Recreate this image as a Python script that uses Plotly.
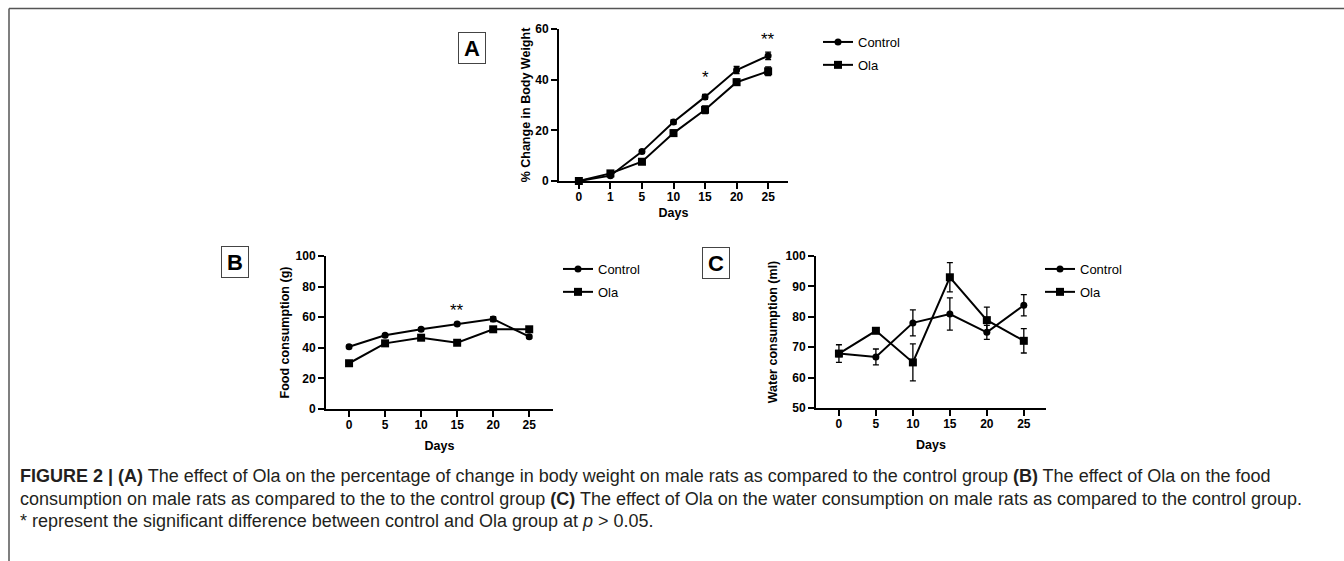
import plotly.graph_objects as go

W, H = 1344, 561

# ---------------- data ----------------
days_a = ["0", "1", "5", "10", "15", "20", "25"]
ctrl_a = [0, 2.1, 11.6, 23.3, 33.2, 43.8, 49.4]
ctrl_a_err = [0.5, 0.5, 0.7, 0.8, 1.0, 1.4, 1.5]
ola_a = [0, 3.0, 7.6, 18.9, 28.1, 39.0, 43.3]
ola_a_err = [0.5, 0.5, 0.8, 1.2, 1.5, 1.2, 1.7]

days_bc = [0, 5, 10, 15, 20, 25]
ctrl_b = [40.7, 48.2, 52.1, 55.6, 58.8, 47.3]
ctrl_b_err = [1.0, 1.0, 1.0, 1.0, 1.6, 1.2]
ola_b = [29.9, 42.9, 46.6, 43.3, 52.1, 52.1]
ola_b_err = [1.6, 1.2, 1.0, 0.8, 0.8, 1.0]

ctrl_c = [67.9, 66.8, 78.0, 80.9, 74.9, 83.8]
ctrl_c_err = [2.9, 2.6, 4.3, 5.3, 2.3, 3.5]
ola_c = [67.9, 75.4, 65.0, 93.0, 78.9, 72.1]
ola_c_err = [1.0, 0.8, 6.1, 4.8, 4.3, 4.0]

# (panel, day, y, text)
stars = [("a", "15", 41.0, "*"), ("a", "25", 55.8, "**"), ("b", 15, 64.5, "**")]

FONT = "Liberation Sans"


def px_x(p):
    return p / W


def px_y(p):
    return 1 - p / H


fig = go.Figure()


def add_series(x, y, err, name, symbol, size, xa, ya, legend, group):
    fig.add_trace(go.Scatter(
        x=x, y=y, name=name, mode="lines+markers",
        line=dict(color="black", width=2),
        marker=dict(symbol=symbol, size=size, color="black"),
        error_y=dict(type="data", array=err, visible=True, color="black",
                     thickness=1.3, width=3),
        xaxis=xa, yaxis=ya, legend=legend, legendgroup=group, cliponaxis=False,
    ))


add_series(days_a, ctrl_a, ctrl_a_err, "Control", "circle", 7, "x", "y", "legend", "a1")
add_series(days_a, ola_a, ola_a_err, "Ola", "square", 8, "x", "y", "legend", "a2")
add_series(days_bc, ctrl_b, ctrl_b_err, "Control", "circle", 7, "x2", "y2", "legend2", "b1")
add_series(days_bc, ola_b, ola_b_err, "Ola", "square", 8, "x2", "y2", "legend2", "b2")
add_series(days_bc, ctrl_c, ctrl_c_err, "Control", "circle", 7, "x3", "y3", "legend3", "c1")
add_series(days_bc, ola_c, ola_c_err, "Ola", "square", 8, "x3", "y3", "legend3", "c2")

tickfont = dict(family=FONT, size=12, color="black", weight="bold")
titlefont = dict(family=FONT, size=12.5, color="black", weight="bold")


def axis(**kw):
    d = dict(showline=True, linecolor="black", linewidth=2, ticks="outside",
             ticklen=6, tickwidth=2, tickcolor="black", showgrid=False,
             zeroline=False, tickfont=tickfont, fixedrange=True, automargin=False)
    d.update(kw)
    return d


layout = dict(
    width=W, height=H, margin=dict(l=0, r=0, t=0, b=0),
    paper_bgcolor="white", plot_bgcolor="white",
    font=dict(family=FONT, color="black"),
    xaxis=axis(domain=[px_x(559), px_x(788)], anchor="y", type="category",
               range=[-0.63, 6.63], ticklabelstandoff=-2,
               title=dict(text="Days", font=titlefont, standoff=5)),
    yaxis=axis(domain=[px_y(181), px_y(29)], anchor="x", range=[0, 60],
               tickvals=[0, 20, 40, 60],
               title=dict(text="% Change in Body Weight", font=titlefont, standoff=2)),
    xaxis2=axis(domain=[px_x(326), px_x(553)], anchor="y2", range=[-3.2, 28.3],
                tickvals=days_bc, ticklabelstandoff=-2,
                title=dict(text="Days", font=titlefont, standoff=10)),
    yaxis2=axis(domain=[px_y(409), px_y(256)], anchor="x2", range=[0, 100],
                tickvals=[0, 20, 40, 60, 80, 100],
                title=dict(text="Food consumption (g)", font=titlefont, standoff=3)),
    xaxis3=axis(domain=[px_x(816), px_x(1046)], anchor="y3", range=[-3.1, 28.0],
                tickvals=days_bc, ticklabelstandoff=-2,
                title=dict(text="Days", font=titlefont, standoff=10)),
    yaxis3=axis(domain=[px_y(408), px_y(256)], anchor="x3", range=[50, 100],
                tickvals=[50, 60, 70, 80, 90, 100],
                title=dict(text="Water consumption (ml)", font=titlefont, standoff=5)),
)

leg_font = dict(family=FONT, size=13, color="black")
for key, lx, ly in [("legend", 818, 27), ("legend2", 558, 254), ("legend3", 1040, 254)]:
    layout[key] = dict(x=px_x(lx), y=px_y(ly), xanchor="left", yanchor="top",
                       font=leg_font, bgcolor="rgba(0,0,0,0)", borderwidth=0,
                       itemwidth=30, tracegroupgap=3)

fig.update_layout(**layout)

# significance stars
for panel, sx, sy, txt in stars:
    if panel == "a":
        xr, yr, xv = "x", "y", days_a.index(sx)
    else:
        xr, yr, xv = "x2", "y2", sx
    fig.add_annotation(x=xv, y=sy, xref=xr, yref=yr, text=txt, showarrow=False,
                       font=dict(family=FONT, size=17, color="black"))

# panel letters
for letter, cx, cy in [("A", 472, 47.5), ("B", 235, 262), ("C", 715.5, 262.5)]:
    fig.add_annotation(x=px_x(cx), y=px_y(cy), xref="paper", yref="paper",
                       text=letter, showarrow=False, xanchor="center", yanchor="middle",
                       font=dict(family=FONT, size=22, color="black", weight="bold"),
                       bordercolor="#444", borderwidth=1, borderpad=2, width=22, height=26)

# frame
fig.add_shape(type="line", xref="paper", yref="paper", x0=px_x(9), x1=1,
              y0=px_y(8.5), y1=px_y(8.5), line=dict(color="#555", width=1.5))
fig.add_shape(type="line", xref="paper", yref="paper", x0=px_x(9), x1=px_x(9),
              y0=px_y(8.5), y1=0, line=dict(color="#555", width=1.5))

# caption
caption_lines = [
    "<b>FIGURE 2 | (A)</b> The effect of Ola on the percentage of change in body weight on male rats as compared to the control group <b>(B)</b> The effect of Ola on the food",
    "consumption on male rats as compared to the to the control group <b>(C)</b> The effect of Ola on the water consumption on male rats as compared to the control group.",
    "* represent the significant difference between control and Ola group at <i>p</i> &gt; 0.05.",
]
for line, cy in zip(caption_lines, [476, 499, 521]):
    fig.add_annotation(x=px_x(18), y=px_y(cy), xref="paper", yref="paper", text=line,
                       showarrow=False, xanchor="left", yanchor="middle", align="left",
                       font=dict(family=FONT, size=18, color="#231f20"))

fig.write_html("out.html", config={"displayModeBar": False},
               post_script="document.body.style.margin='0';document.body.style.overflow='hidden';")
